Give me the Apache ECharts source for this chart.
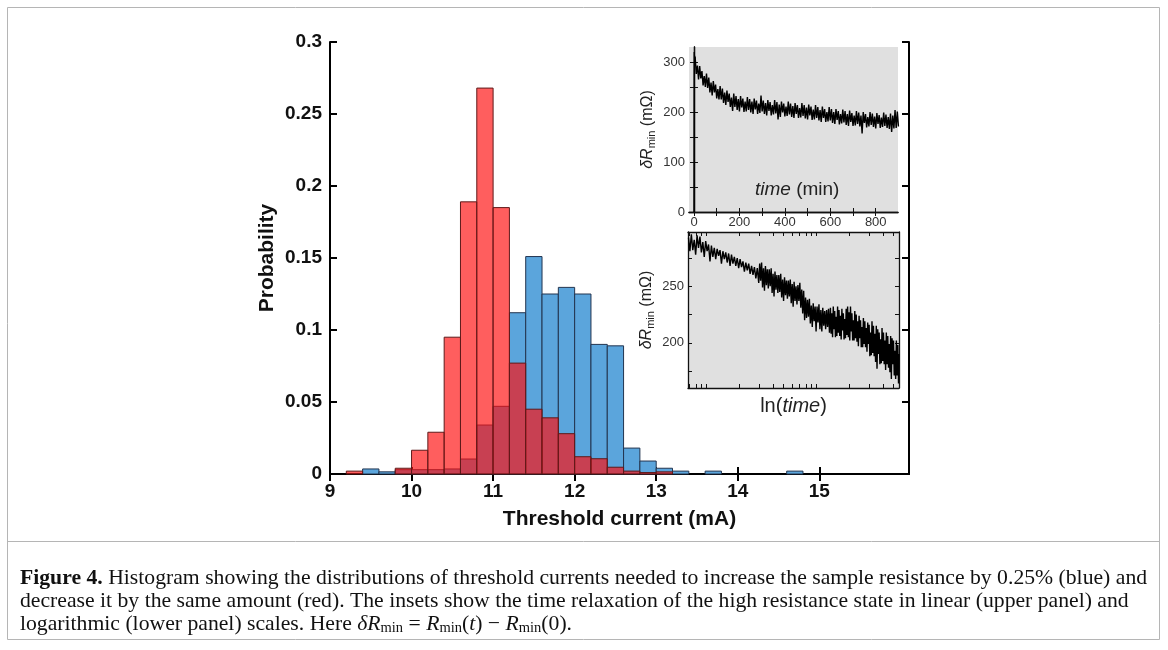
<!DOCTYPE html>
<html><head><meta charset="utf-8">
<script src="https://cdn.jsdelivr.net/npm/echarts@6/dist/echarts.min.js"></script>
<style>html,body{margin:0;padding:0;background:#fff}#c{width:1168px;height:650px}</style>
</head><body><div id="c"></div>
<script>
// ---- main histogram (bins of 0.2 mA) ----
const binStart = [9.2, 9.4, 9.6, 9.8, 10.0, 10.2, 10.4, 10.6, 10.8, 11.0, 11.2, 11.4, 11.6, 11.8,
                  12.0, 12.2, 12.4, 12.6, 12.8, 13.0, 13.2, 13.4, 13.6, 13.8, 14.0, 14.2, 14.4, 14.6];
const binWidth = 0.2;
const increaseProb = [0, 0.0035, 0.0015, 0.003, 0.003, 0.003, 0.0035, 0.0104, 0.034, 0.047, 0.112, 0.151, 0.125, 0.1296,
                      0.125, 0.090, 0.089, 0.018, 0.009, 0.004, 0.002, 0, 0.002, 0, 0, 0, 0, 0.002];
const decreaseProb = [0.002, 0, 0, 0.004, 0.0165, 0.029, 0.095, 0.189, 0.268, 0.185, 0.077, 0.045, 0.039, 0.028,
                      0.012, 0.0106, 0.0047, 0.002, 0.001, 0.0015, 0, 0, 0, 0, 0, 0, 0, 0];
const mainXTicks = [9, 10, 11, 12, 13, 14, 15];

// ---- upper inset: time (min) vs dR_min (mOhm) ----
const upperTicksX = [0, 100, 200, 300, 400, 500, 600, 700, 800];
const upperLabelsX = [0, 200, 400, 600, 800];
const upperTicksY = [0, 50, 100, 150, 200, 250, 300];
const upperLabelsY = [0, 100, 200, 300];
const upperTrace = [[0,0],[1,320],[3,300],[5,311],[10,276],[15,293],[20,265],[25,292],[30,267],[35,282],[40,253],[45,272],
[50,250],[55,277],[60,248],[65,269],[70,239],[75,259],[80,233],[85,262],[90,239],[95,255],[100,227],[105,246],[110,225],
[115,252],[120,225],[125,247],[130,218],[135,239],[140,214],[145,243],[150,220],[155,237],[160,210],[165,229],[170,202],
[175,237],[180,210],[185,232],[190,204],[195,226],[200,201],[205,232],[210,209],[215,227],[220,200],[225,221],[230,201],
[235,230],[240,204],[245,226],[250,199],[255,221],[260,196],[265,227],[270,205],[275,223],[280,196],[285,217],[290,198],
[295,233],[300,201],[305,223],[310,196],[315,218],[320,193],[325,224],[330,202],[335,220],[340,193],[345,214],[350,195],
[355,224],[360,197],[365,220],[370,185],[375,215],[380,190],[385,221],[390,199],[395,217],[400,191],[405,211],[410,192],
[415,221],[420,195],[425,217],[430,190],[435,212],[440,188],[445,218],[450,196],[455,214],[460,188],[465,208],[470,189],
[475,218],[480,192],[485,214],[490,187],[495,209],[500,185],[505,215],[510,193],[515,211],[520,184],[525,205],[530,185],
[535,214],[540,188],[545,210],[550,183],[555,204],[560,180],[565,211],[570,188],[575,206],[580,180],[585,200],[590,181],
[595,210],[600,183],[605,206],[610,178],[615,200],[620,176],[625,206],[630,184],[635,202],[640,175],[645,196],[650,177],
[655,205],[660,179],[665,202],[670,174],[675,196],[680,172],[685,203],[690,180],[695,198],[700,172],[705,193],[710,173],
[715,202],[720,176],[725,199],[730,171],[735,193],[740,157],[745,200],[750,178],[755,196],[760,169],[765,190],[770,171],
[775,200],[780,174],[785,197],[790,170],[795,191],[800,167],[805,198],[810,176],[815,194],[820,168],[825,189],[830,170],
[835,199],[840,172],[845,195],[850,168],[855,190],[860,166],[865,197],[870,160],[875,193],[880,167],[885,204],[890,168],
[895,201],[900,171]];

// ---- lower inset: ln(time) (time in s) vs dR_min (mOhm) ----
// tick positions: ln of 700..1000, 2000..10000, 20000..50000 s
const lowerTicksX = [6.551, 6.685, 6.802, 6.908, 7.601, 8.006, 8.294, 8.517, 8.700, 8.854, 8.987, 9.105, 9.210,
                     9.903, 10.309, 10.597, 10.820];
const lowerTicksY = [175, 200, 225, 250, 275];
const lowerLabelsY = [200, 250];
const lowerTrace = [[6.53,293],[6.56,281],[6.59,296],[6.62,282],[6.65,291],[6.68,278],[6.71,295],[6.74,284],[6.77,294],
[6.80,280],[6.83,289],[6.86,276],[6.89,290],[6.92,281],[6.95,287],[6.98,272],[7.01,286],[7.04,276],[7.07,284],[7.10,274],
[7.13,283],[7.16,277],[7.19,282],[7.22,270],[7.25,281],[7.28,274],[7.31,280],[7.34,271],[7.37,279],[7.40,268],[7.43,278],
[7.46,270],[7.49,276],[7.52,268],[7.55,275],[7.58,266],[7.61,274],[7.64,267],[7.67,272],[7.70,263],[7.73,271],[7.76,264],
[7.79,270],[7.82,261],[7.85,268],[7.88,260],[7.91,267],[7.94,257],[7.97,266],
[8.00,253],[8.02,270],[8.04,255],[8.06,271],[8.08,249],[8.10,266],[8.12,246],[8.14,268],[8.16,251],[8.18,265],[8.20,248],
[8.22,265],[8.24,250],[8.26,266],[8.28,244],[8.30,261],[8.32,241],[8.34,263],[8.36,247],[8.38,260],[8.40,244],[8.42,260],
[8.44,245],[8.46,261],[8.48,240],[8.50,256],[8.52,237],[8.54,258],[8.56,242],[8.58,255],[8.60,239],[8.62,255],[8.64,241],
[8.66,256],[8.68,235],[8.70,252],[8.72,232],[8.74,254],[8.76,237],[8.78,250],[8.80,234],[8.82,251],[8.84,237],[8.86,253],
[8.88,231],[8.90,247],[8.92,226],[8.94,246],[8.96,220],[8.98,240],[9.00,222],[9.02,238],[9.04,223],[9.06,239],[9.08,217],
[9.10,233],[9.12,214],[9.14,235],[9.16,219],[9.18,232],[9.20,210],[9.22,232],[9.24,218],[9.26,234],[9.28,212],[9.30,229],
[9.32,210],[9.34,231],[9.36,215],[9.38,228],[9.40,212],[9.42,229],[9.44,214],[9.46,230],[9.48,209],
[9.500,231],[9.515,208],[9.530,226],[9.545,205],[9.560,232],[9.575,212],[9.590,228],[9.605,205],[9.620,223],[9.635,206],
[9.650,232],[9.665,209],[9.680,229],[9.695,206],[9.710,224],[9.725,203],[9.740,230],[9.755,211],[9.770,226],[9.785,203],
[9.800,221],[9.815,204],[9.830,230],[9.845,207],[9.860,232],[9.875,205],[9.890,227],[9.905,202],[9.920,232],[9.935,210],
[9.950,226],[9.965,202],[9.980,220],[9.995,202],[10.010,228],[10.025,204],[10.040,225],[10.055,201],[10.070,219],
[10.085,197],[10.100,224],[10.115,204],[10.130,220],[10.145,196],[10.160,214],[10.175,196],[10.190,222],[10.205,199],
[10.220,219],[10.235,196],[10.250,213],[10.265,192],[10.280,218],[10.295,199],[10.310,216],[10.325,188],[10.340,209],
[10.355,189],[10.370,219],[10.385,191],[10.400,215],[10.415,188],[10.430,208],[10.445,183],[10.460,215],[10.475,177],
[10.490,212],[10.505,190],[10.520,209],[10.535,181],[10.550,203],[10.565,182],[10.580,213],[10.595,184],[10.610,209],
[10.625,181],[10.640,202],[10.655,176],[10.670,209],[10.685,181],[10.700,206],[10.715,178],[10.730,199],[10.745,174],
[10.760,206],[10.775,168],[10.790,204],[10.805,181],[10.820,202],[10.835,171],[10.850,193],[10.865,168],[10.880,202],
[10.895,171],[10.910,198],[10.925,164],[10.935,190]];

const SANS = 'Liberation Sans, Arial, sans-serif';
const SERIF = 'Liberation Serif, Times New Roman, serif';

const chart = echarts.init(document.getElementById('c'), null, {renderer: 'canvas'});

function histItem(fill, stroke) {
  return function (params, api) {
    const x0 = api.value(0), x1 = api.value(1), v = api.value(2);
    const a = api.coord([x0, v]), b = api.coord([x1, 0]);
    return {type: 'rect', shape: {x: a[0], y: a[1], width: b[0] - a[0], height: b[1] - a[1]},
            style: {fill: fill, stroke: stroke, lineWidth: 1}};
  };
}
const toBins = vals => binStart.map((s, i) => [s, s + binWidth, vals[i]]).filter(d => d[2] > 0);

const mainLine = {show: true, lineStyle: {color: '#000', width: 2}};
const mainTick = (vals) => ({show: true, inside: true, length: 7, lineStyle: {color: '#000', width: 2}, customValues: vals});
const insetLine = {show: true, lineStyle: {color: '#111', width: 1.3}};
const insetTick = (vals) => ({show: true, inside: true, length: 4, lineStyle: {color: '#111', width: 1}, customValues: vals});
const insetLabel = (vals, margin) => ({show: true, customValues: vals, fontSize: 13, color: '#333', fontFamily: SANS, margin: margin});
const noSplit = {show: false};
const dRname = '{i|δR}{s|min}{n| (mΩ)}';
const dRstyle = {fontFamily: SANS, color: '#222',
  rich: {i: {fontSize: 16, fontStyle: 'italic', fontFamily: SANS, lineHeight: 22},
         s: {fontSize: 11, fontFamily: SANS, padding: [7, 0, 0, 0], lineHeight: 22},
         n: {fontSize: 16, fontFamily: SANS, lineHeight: 22}}};
const capRich = {
  b: {fontWeight: 'bold', fontSize: 21.7, fontFamily: SERIF},
  i: {fontStyle: 'italic', fontSize: 21.7, fontFamily: SERIF, lineHeight: 26},
  s: {fontSize: 14.5, fontFamily: SERIF, padding: [9, 0, 0, 0], lineHeight: 26}
};

const option = {
  animation: false,
  backgroundColor: '#fff',
  grid: [
    {left: 330, right: 259, top: 42, bottom: 176},
    {left: 689, top: 47, width: 209, height: 165, show: true, backgroundColor: '#e0e0e0', borderWidth: 0, z: 5},
    {left: 688, top: 232, width: 211, height: 156, show: true, backgroundColor: '#e0e0e0', borderWidth: 0, z: 5}
  ],
  xAxis: [
    {gridIndex: 0, type: 'value', min: 9, max: 16.1, position: 'bottom', axisLine: mainLine, axisTick: mainTick(mainXTicks),
     axisLabel: {customValues: mainXTicks, fontSize: 19, fontWeight: 'bold', color: '#111', fontFamily: SANS, margin: 8},
     splitLine: noSplit, name: 'Threshold current (mA)', nameLocation: 'middle', nameGap: 35,
     nameTextStyle: {fontSize: 21, fontWeight: 'bold', color: '#111', fontFamily: SANS}},
    {gridIndex: 0, type: 'value', min: 9, max: 16.1, position: 'top', axisLine: mainLine, axisTick: mainTick(mainXTicks),
     axisLabel: {show: false}, splitLine: noSplit},
    {gridIndex: 1, type: 'value', min: -22, max: 898, position: 'bottom', axisLine: insetLine, axisTick: insetTick(upperTicksX),
     axisLabel: insetLabel(upperLabelsX, 4), splitLine: noSplit, z: 6},
    {gridIndex: 1, type: 'value', min: -22, max: 898, position: 'top', axisLine: insetLine, axisTick: insetTick(upperTicksX),
     axisLabel: {show: false}, splitLine: noSplit, z: 6},
    {gridIndex: 2, type: 'value', min: 6.52, max: 10.935, position: 'bottom', axisLine: insetLine,
     axisTick: insetTick(lowerTicksX), axisLabel: {show: false}, splitLine: noSplit, z: 6,
     name: '{n|ln(}{i|time}{n|)}', nameLocation: 'middle', nameGap: 8,
     nameTextStyle: {rich: {n: {fontSize: 20, fontFamily: SANS, color: '#222'}, i: {fontSize: 20, fontFamily: SANS, fontStyle: 'italic', color: '#222'}}}},
    {gridIndex: 2, type: 'value', min: 6.52, max: 10.935, position: 'top', axisLine: insetLine,
     axisTick: insetTick(lowerTicksX), axisLabel: {show: false}, splitLine: noSplit, z: 6}
  ],
  yAxis: [
    {gridIndex: 0, type: 'value', min: 0, max: 0.3, interval: 0.05, position: 'left', axisLine: mainLine,
     axisTick: {show: true, inside: true, length: 7, lineStyle: {color: '#000', width: 2}},
     axisLabel: {fontSize: 19, fontWeight: 'bold', color: '#111', fontFamily: SANS, margin: 8},
     splitLine: noSplit, name: 'Probability', nameLocation: 'middle', nameGap: 52, nameRotate: 90,
     nameTextStyle: {fontSize: 21, fontWeight: 'bold', color: '#111', fontFamily: SANS}},
    {gridIndex: 0, type: 'value', min: 0, max: 0.3, interval: 0.05, position: 'right', axisLine: mainLine,
     axisTick: {show: true, inside: true, length: 7, lineStyle: {color: '#000', width: 2}},
     axisLabel: {show: false}, splitLine: noSplit},
    {gridIndex: 1, type: 'value', min: 0, max: 330, position: 'left', axisLine: insetLine, axisTick: insetTick(upperTicksY),
     axisLabel: insetLabel(upperLabelsY, 4), splitLine: noSplit, z: 6,
     name: dRname, nameLocation: 'middle', nameGap: 30, nameRotate: 90, nameTextStyle: dRstyle},
    {gridIndex: 1, type: 'value', min: 0, max: 330, position: 'right', axisLine: insetLine, axisTick: insetTick(upperTicksY),
     axisLabel: {show: false}, splitLine: noSplit, z: 6},
    {gridIndex: 2, type: 'value', min: 160, max: 298, position: 'left', axisLine: insetLine, axisTick: insetTick(lowerTicksY),
     axisLabel: insetLabel(lowerLabelsY, 4), splitLine: noSplit, z: 6,
     name: dRname, nameLocation: 'middle', nameGap: 30, nameRotate: 90, nameTextStyle: dRstyle},
    {gridIndex: 2, type: 'value', min: 160, max: 298, position: 'right', axisLine: insetLine, axisTick: insetTick(lowerTicksY),
     axisLabel: {show: false}, splitLine: noSplit, z: 6}
  ],
  series: [
    {type: 'custom', name: 'increase', xAxisIndex: 0, yAxisIndex: 0, data: toBins(increaseProb),
     renderItem: histItem('#5ba5dc', '#22344f'), z: 2},
    {type: 'custom', name: 'decrease', xAxisIndex: 0, yAxisIndex: 0, data: toBins(decreaseProb),
     renderItem: histItem('rgba(255,14,14,0.665)', '#5e1a1a'), z: 3},
    {type: 'line', xAxisIndex: 2, yAxisIndex: 2, data: upperTrace, showSymbol: false, symbol: 'none',
     lineStyle: {color: '#000', width: 1.4}, z: 7},
    {type: 'line', xAxisIndex: 4, yAxisIndex: 4, data: lowerTrace, showSymbol: false, symbol: 'none',
     lineStyle: {color: '#000', width: 1.4}, z: 7}
  ],
  graphic: [
    {type: 'rect', shape: {x: 7.5, y: 7.5, width: 1152, height: 632}, style: {fill: 'none', stroke: '#b5b5b5', lineWidth: 1}, silent: true},
    {type: 'line', shape: {x1: 7.5, y1: 541.5, x2: 1159.5, y2: 541.5}, style: {stroke: '#b5b5b5', lineWidth: 1}, silent: true},
    {type: 'text', left: 755, top: 180, z: 20, style: {text: '{i|time}{n| (min)}', rich: {
      i: {fontSize: 19, fontStyle: 'italic', fontFamily: SANS, fill: '#222'}, n: {fontSize: 19, fontFamily: SANS, fill: '#222'}}}},
    {type: 'text', left: 20, top: 567, z: 20, style: {fill: '#111', font: '21.7px ' + SERIF,
      text: '{b|Figure 4.} Histogram showing the distributions of threshold currents needed to increase the sample resistance by 0.25% (blue) and',
      rich: capRich}},
    {type: 'text', left: 20, top: 590, z: 20, style: {fill: '#111', font: '21.7px ' + SERIF,
      text: 'decrease it by the same amount (red). The insets show the time relaxation of the high resistance state in linear (upper panel) and'}},
    {type: 'text', left: 20, top: 612, z: 20, style: {fill: '#111', font: '21.7px ' + SERIF,
      text: 'logarithmic (lower panel) scales. Here {i|δR}{s|min} = {i|R}{s|min}({i|t}) − {i|R}{s|min}(0).',
      rich: capRich}}
  ]
};
chart.setOption(option);
</script>
</body></html>
